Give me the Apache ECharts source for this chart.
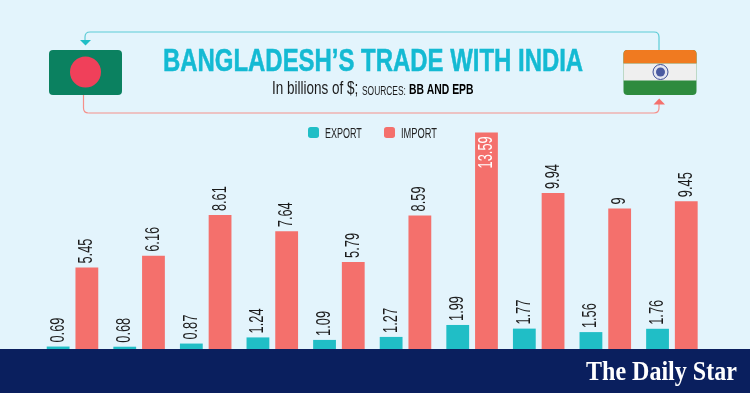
<!DOCTYPE html>
<html><head><meta charset="utf-8">
<style>html,body{margin:0;padding:0;background:#E3F4FC}#c{width:750px;height:393px}</style>
<script src="https://cdn.jsdelivr.net/npm/echarts@6/dist/echarts.min.js"></script>
</head><body><div id="c"></div>
<script>
const categories = ["1","2","3","4","5","6","7","8","9","10"];
const exportValues = [0.69,0.68,0.87,1.24,1.09,1.27,1.99,1.77,1.56,1.76];
const importValues = [5.45,6.16,8.61,7.64,5.79,8.59,13.59,9.94,9,9.45];
const TEAL="#20BEC6", RED="#F4706C", NAVY="#0A1F5E", SANS='"Liberation Sans",sans-serif';
const line=(pts,c)=>({type:'polyline',z:5,shape:{points:pts},style:{fill:null,stroke:c,lineWidth:1.2}});
const curve=(x1,y1,cx,cy,x2,y2,c)=>({type:'bezierCurve',z:5,shape:{x1,y1,cpx1:cx,cpy1:cy,x2,y2},style:{fill:null,stroke:c,lineWidth:1.2}});
const text=(str,x,y,sx,font,fill,extra)=>({type:'text',z:10,x,y,scaleX:sx,style:Object.assign({text:str,font,fill},extra||{})});
const LT='#5CCBD6', LR='#F58F89';
// Condensed, rotated value labels placed through the chart's own scales
const valueLabels=(side)=>(params,api)=>{
  const p=api.coord([api.value(0),api.value(1)]);
  const x=p[0]+side*api.size([1,0])[0]*0.216;
  const v=api.value(1), inside=v>13;
  return {type:'text',x:x,y:inside?p[1]+36:p[1]-4,rotation:Math.PI/2,scaleX:0.64,
    style:{text:String(v),font:'20px '+SANS,fill:inside?'#fff':'#1b1b1b',align:'left',verticalAlign:'middle'}};
};
const chart=echarts.init(document.getElementById('c'),null,{renderer:'canvas'});
chart.setOption({
  animation:false,
  backgroundColor:'#E3F4FC',
  grid:{left:39.2,width:666,top:125.6,height:232.4,containLabel:false},
  xAxis:{type:'category',data:categories,show:false},
  yAxis:{type:'value',min:0,max:14,show:false},
  legend:{left:308,top:127,padding:0,itemWidth:11,itemHeight:11,itemGap:65,icon:'roundRect',formatter:()=>'',selectedMode:false,data:['EXPORT','IMPORT']},
  series:[
   {name:'EXPORT',type:'bar',data:exportValues,barWidth:22.8,barGap:'26%',itemStyle:{color:TEAL}},
   {name:'IMPORT',type:'bar',data:importValues,barWidth:22.8,barGap:'26%',itemStyle:{color:RED}},
   {name:'EXPORT labels',type:'custom',silent:true,z:4,data:exportValues.map((v,i)=>[i,v]),encode:{x:0,y:1},renderItem:valueLabels(-1)},
   {name:'IMPORT labels',type:'custom',silent:true,z:4,data:importValues.map((v,i)=>[i,v]),encode:{x:0,y:1},renderItem:valueLabels(1)}
  ],
  graphic:{elements:[
   {type:'rect',z:100,shape:{x:0,y:349,width:750,height:44},style:{fill:NAVY}},
   {type:'text',z:101,x:586,y:360,scaleX:0.89,style:{text:'The Daily Star',font:'bold 27px "Liberation Serif",serif',fill:'#fff'}},
   // connectors
   line([[85,41],[85,37]],LT), curve(85,37,85,32,90,32,LT), line([[90,32],[654,32]],LT), curve(654,32,659,32,659,37,LT), line([[659,37],[659,50]],LT),
   {type:'polygon',z:5,shape:{points:[[80,40],[91,40],[85.5,45.5]]},style:{fill:TEAL}},
   line([[83.5,95],[83.5,108]],LR), curve(83.5,108,83.5,113,88.5,113,LR), line([[88.5,113],[654,113]],LR), curve(654,113,659,113,659,108,LR), line([[659,108],[659,103]],LR),
   {type:'polygon',z:5,shape:{points:[[653.5,104.5],[665,104.5],[659.2,98.5]]},style:{fill:RED}},
   // Bangladesh flag
   {type:'rect',z:6,shape:{x:49,y:50,width:73,height:45,r:4},style:{fill:'#0B8160'}},
   {type:'circle',z:7,shape:{cx:85.5,cy:72,r:15.5},style:{fill:'#F0405A'}},
   // India flag
   {type:'rect',z:6,shape:{x:623.5,y:50,width:73,height:45,r:4},style:{fill:'#2E8B3E'}},
   {type:'rect',z:7,shape:{x:623.5,y:50,width:73,height:13.5,r:[4,4,0,0]},style:{fill:'#F07A20'}},
   {type:'rect',z:7,shape:{x:623.5,y:63.5,width:73,height:17},style:{fill:'#EFEFEF'}},
   {type:'circle',z:8,shape:{cx:660.5,cy:72,r:7.5},style:{fill:'#E4E6F0',stroke:'#3D4E96',lineWidth:1}},
   {type:'circle',z:8,shape:{cx:660.5,cy:72,r:4.5},style:{fill:'#4A5AA0'}},
   // Title, subtitle and legend words
   text('BANGLADESH’S TRADE WITH INDIA',163,47,0.772,'bold 31px '+SANS,'#14BAD3',{stroke:'#14BAD3',lineWidth:0.5}),
   text('In billions of $;',272,80,0.75,'18px '+SANS,'#1b1b1b'),
   text('SOURCES:',362,85.5,0.7,'12px '+SANS,'#1b1b1b'),
   text('BB AND EPB',409,83.5,0.74,'bold 14px '+SANS,'#000'),
   text('EXPORT',325,126,0.6,'15px '+SANS,'#222'),
   text('IMPORT',401,126,0.62,'15px '+SANS,'#222')
  ]}
});
</script></body></html>
